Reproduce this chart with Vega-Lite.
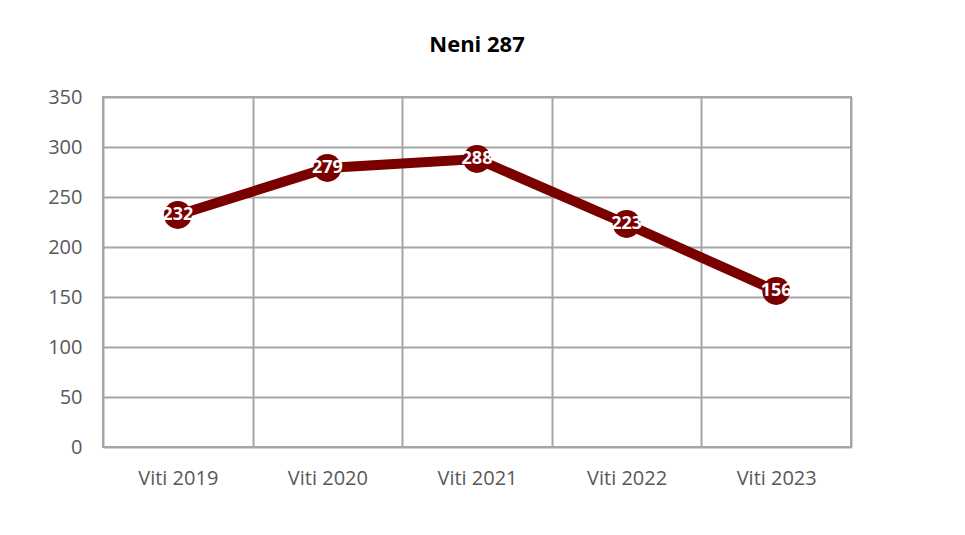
{
  "$schema": "https://vega.github.io/schema/vega-lite/v6.json",
  "autosize": "none",
  "width": 748,
  "height": 350,
  "padding": {"left": 103, "top": 97, "right": 114, "bottom": 88},
  "background": "white",
  "config": {
    "font": "Open Sans",
    "view": {"stroke": "#a6a6a6", "strokeWidth": 2}
  },
  "title": {
    "text": "Neni 287",
    "font": "Open Sans",
    "fontSize": 22,
    "fontWeight": "bold",
    "color": "#000000",
    "anchor": "middle",
    "offset": 30
  },
  "data": {
    "values": [
      {"viti": "Viti 2019", "vlera": 232},
      {"viti": "Viti 2020", "vlera": 279},
      {"viti": "Viti 2021", "vlera": 288},
      {"viti": "Viti 2022", "vlera": 223},
      {"viti": "Viti 2023", "vlera": 156}
    ]
  },
  "encoding": {
    "x": {
      "field": "viti",
      "type": "nominal",
      "sort": null,
      "scale": {"paddingInner": 0, "paddingOuter": 0},
      "axis": {
        "title": null,
        "labelAngle": 0,
        "labelFontSize": 20,
        "labelColor": "#595959",
        "labelPadding": 21,
        "ticks": false,
        "domain": false,
        "grid": true,
        "tickBand": "extent",
        "gridColor": "#a6a6a6",
        "gridWidth": 2
      }
    },
    "y": {
      "field": "vlera",
      "type": "quantitative",
      "scale": {"domain": [0, 350]},
      "axis": {
        "title": null,
        "values": [0, 50, 100, 150, 200, 250, 300, 350],
        "labelFontSize": 20,
        "labelColor": "#595959",
        "labelPadding": 21,
        "ticks": false,
        "domain": false,
        "grid": true,
        "gridColor": "#a6a6a6",
        "gridWidth": 2
      }
    }
  },
  "layer": [
    {"mark": {"type": "line", "color": "#7a0000", "strokeWidth": 10}},
    {"mark": {"type": "point", "filled": true, "opacity": 1, "color": "#7a0000", "size": 780}},
    {
      "mark": {"type": "text", "color": "white", "fontWeight": "bold", "fontSize": 18, "font": "Open Sans", "baseline": "middle"},
      "encoding": {"text": {"field": "vlera", "type": "quantitative"}}
    }
  ]
}
